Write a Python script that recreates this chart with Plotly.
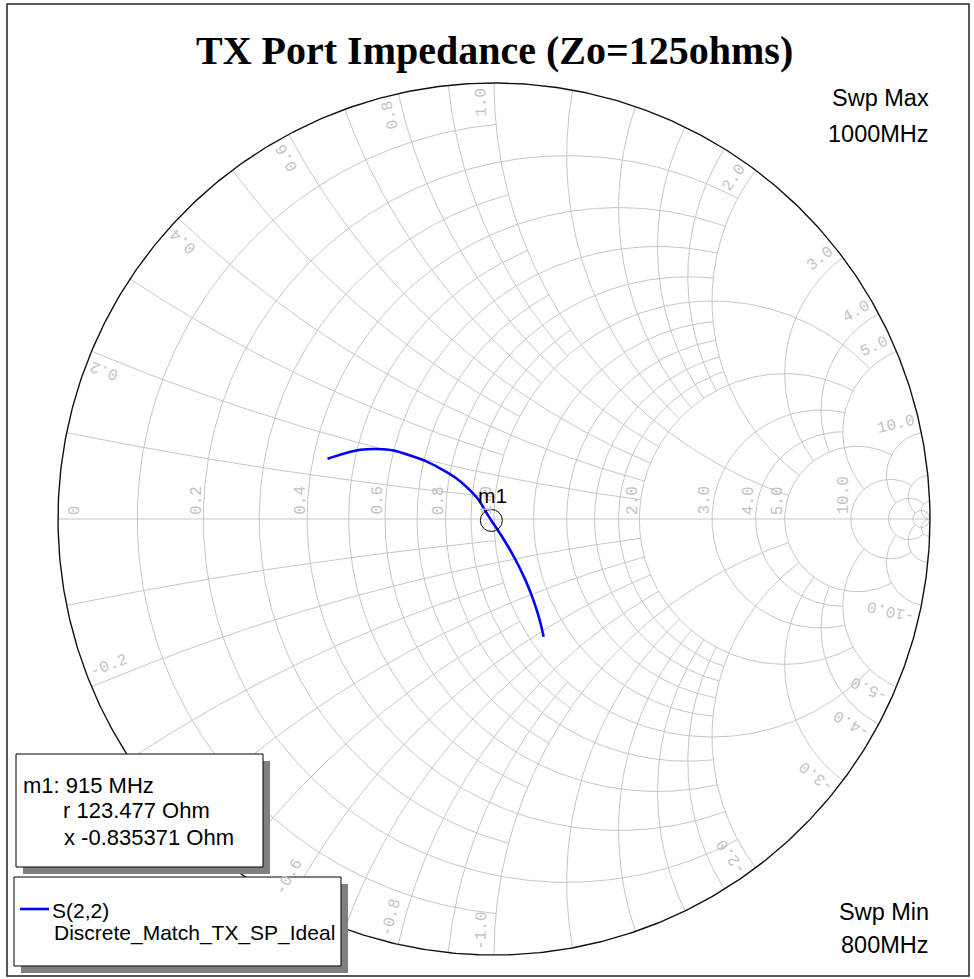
import numpy as np
import plotly.graph_objects as go

# Page size and Smith chart placement (pixels)
W, H = 974, 979
CX, CY, R = 494.0, 519.0, 436.0

Z0 = 125.0

# S(2,2) sweep, reflection coefficient (real / imaginary)
freq_mhz = [800, 810, 820, 830, 840, 850, 860, 870, 880, 890, 900, 910, 915,
            920, 930, 940, 950, 960, 970, 980, 990, 1000]
s22_re = [-0.3819, -0.3433, -0.3062, -0.2681, -0.2300, -0.1938, -0.1578, -0.1239,
          -0.0913, -0.0619, -0.0358, -0.0165, -0.0061, 0.0037, 0.0225, 0.0404,
          0.0564, 0.0713, 0.0846, 0.0962, 0.1060, 0.1138]
s22_im = [0.1383, 0.1502, 0.1587, 0.1606, 0.1573, 0.1463, 0.1333, 0.1163,
          0.0968, 0.0725, 0.0447, 0.0128, -0.0034, -0.0179, -0.0470, -0.0771,
          -0.1073, -0.1385, -0.1706, -0.2032, -0.2362, -0.2700]

# Marker m1
m1_freq_mhz = 915
m1_r_ohm = 123.477
m1_x_ohm = -0.835371

# Smith grid: value of each r circle / x arc and how far it runs
grid_values = [0.1, 0.2, 0.3, 0.4, 0.5, 0.6, 0.7, 0.8, 0.9, 1.0,
               1.2, 1.4, 1.6, 1.8, 2.0, 3.0, 4.0, 5.0, 10.0, 20.0, 50.0]
grid_limits = [1, 2, 1, 2, 1, 2, 1, 2, 1, 5,
               2, 2, 2, 2, 5, 5, 5, 10, 20, 50, np.inf]

resistance_labels = [0, 0.2, 0.4, 0.6, 0.8, 1.0, 2.0, 3.0, 4.0, 5.0, 10.0]
reactance_labels = [0.2, 0.4, 0.6, 0.8, 1.0, 2.0, 3.0, 4.0, 5.0, 10.0]

GRID_COLOR = "#c6c6c6"
LABEL_COLOR = "#c2c2c2"
LABEL_FONT = dict(family="Liberation Mono", size=16, color=LABEL_COLOR)
TEXT_FONT = "Liberation Sans"

# marker readout box and legend box (page pixels: x0, y0, x1, y1)
MARKER_BOX = (16, 754, 263, 867)
LEGEND_BOX = (14, 877, 341, 966)
SHADOW = 7


def gamma(z):
    return (z - 1) / (z + 1)


def gx(px):
    return (px - CX) / R


def gy(py):
    return (CY - py) / R


def covered(px, py):
    for x0, y0, x1, y1 in (MARKER_BOX, LEGEND_BOX):
        if x0 <= px <= x1 + SHADOW and y0 <= py <= y1 + SHADOW:
            return True
    return False


# ---- grid lines ----
grid_x, grid_y = [-1.0, 1.0, None], [0.0, 0.0, None]
for v, lim in zip(grid_values, grid_limits):
    t = np.linspace(-np.arctan(lim), np.arctan(lim), 401)
    g = gamma(v + 1j * np.tan(t))
    grid_x += list(g.real) + [None]
    grid_y += list(g.imag) + [None]
    t = np.linspace(0.0, np.arctan(lim), 301)
    for s in (1, -1):
        g = gamma(np.tan(t) + 1j * s * v)
        grid_x += list(g.real) + [None]
        grid_y += list(g.imag) + [None]

t = np.linspace(-np.pi / 2, np.pi / 2, 721)
outer = gamma(1j * np.tan(t))

fig = go.Figure()
fig.add_trace(go.Scatter(x=grid_x, y=grid_y, mode="lines",
                         line=dict(color=GRID_COLOR, width=1),
                         hoverinfo="skip", showlegend=False))
fig.add_trace(go.Scatter(x=outer.real, y=outer.imag, mode="lines",
                         line=dict(color="#111111", width=1.4),
                         hoverinfo="skip", showlegend=False))
fig.add_trace(go.Scatter(x=s22_re, y=s22_im, mode="lines", name="S(2,2)",
                         line=dict(color="#0000ff", width=2.6, shape="spline",
                                   smoothing=0.8),
                         showlegend=False))

m1_gamma = gamma(complex(m1_r_ohm, m1_x_ohm) / Z0)
fig.add_trace(go.Scatter(x=[m1_gamma.real], y=[m1_gamma.imag], mode="markers",
                         marker=dict(symbol="circle-open", size=22,
                                     color="#000000", line=dict(width=1)),
                         showlegend=False))

annotations = []

# resistance labels along the real axis
for v in resistance_labels:
    txt = "0" if v == 0 else f"{v:.1f}"
    ln = 9.6 * len(txt)
    if v == 0:
        px = 75.0
    else:
        px = CX + R * (v - 1) / (v + 1) - 7
    py = 515 - ln / 2
    annotations.append(dict(x=gx(px), y=gy(py), xref="x", yref="y", text=txt,
                            showarrow=False, textangle=-90, font=LABEL_FONT,
                            xanchor="center", yanchor="middle"))

# reactance labels just inside the outer circle
delta = np.radians(1.7)
for v in reactance_labels:
    phi = np.pi - 2 * np.arctan(v)
    for s in (1, -1):
        txt = f"{v:.1f}" if s > 0 else f"-{v:.1f}"
        ln = 9.6 * len(txt)
        psi = s * (phi + delta)
        rad = 431.5 - ln / 2
        px = CX + rad * np.cos(psi)
        py = CY - rad * np.sin(psi)
        if covered(px, py):
            continue
        ang = np.degrees(psi) if s > 0 else np.degrees(psi) + 180
        ta = -ang
        while ta <= -180:
            ta += 360
        while ta > 180:
            ta -= 360
        annotations.append(dict(x=gx(px), y=gy(py), xref="x", yref="y", text=txt,
                                showarrow=False, textangle=ta, font=LABEL_FONT,
                                xanchor="center", yanchor="middle"))


def label(px, py, text, size, anchor="left", family=TEXT_FONT, bold=False):
    if bold:
        text = f"<b>{text}</b>"
    annotations.append(dict(x=gx(px), y=gy(py), xref="x", yref="y", text=text,
                            showarrow=False,
                            font=dict(family=family, size=size, color="#000000"),
                            xanchor=anchor, yanchor="middle"))


label(494, 50, "TX Port Impedance (Zo=125ohms)", 40, "center",
      family="Liberation Serif", bold=True)
label(931, 98, "Swp Max", 23.5, "right")
label(931, 133.5, "1000MHz", 23.5, "right")
label(931, 911.5, "Swp Min", 23.5, "right")
label(931, 945, "800MHz", 23.5, "right")
label(492.5, 495.5, "m1", 21, "center")

label(21, 785.5, f"m1: {m1_freq_mhz} MHz", 22)
label(61, 810.5, f"r {m1_r_ohm} Ohm", 22)
label(62, 837, f"x {m1_x_ohm} Ohm", 22)
label(50, 910.5, "S(2,2)", 21)
label(52, 932.5, "Discrete_Match_TX_SP_Ideal", 21)


def rect(x0, y0, x1, y1, fill, line_color=None, width=1):
    return dict(type="rect", xref="x", yref="y", layer="above",
                x0=gx(x0), y0=gy(y0), x1=gx(x1), y1=gy(y1),
                fillcolor=fill,
                line=dict(color=line_color or fill, width=width if line_color else 0))


shapes = [rect(7, 4, 969, 976, "rgba(0,0,0,0)", "#222222", 1.5)]
for x0, y0, x1, y1 in (MARKER_BOX, LEGEND_BOX):
    shapes.append(rect(x0 + SHADOW, y0 + SHADOW, x1 + SHADOW, y1 + SHADOW, "#808080"))
    shapes.append(rect(x0, y0, x1, y1, "#ffffff", "#000000", 1))
shapes.append(dict(type="line", xref="x", yref="y", layer="above",
                   x0=gx(20), y0=gy(909), x1=gx(49), y1=gy(909),
                   line=dict(color="#0000ff", width=2.6)))

fig.update_layout(
    width=W, height=H,
    margin=dict(l=0, r=0, t=0, b=0),
    paper_bgcolor="#ffffff", plot_bgcolor="#ffffff",
    xaxis=dict(range=[gx(0), gx(W)], visible=False, fixedrange=True),
    yaxis=dict(range=[gy(H), gy(0)], visible=False, fixedrange=True),
    annotations=annotations,
    shapes=shapes,
    showlegend=False,
)

fig.write_html("out.html", config={"displayModeBar": False})
